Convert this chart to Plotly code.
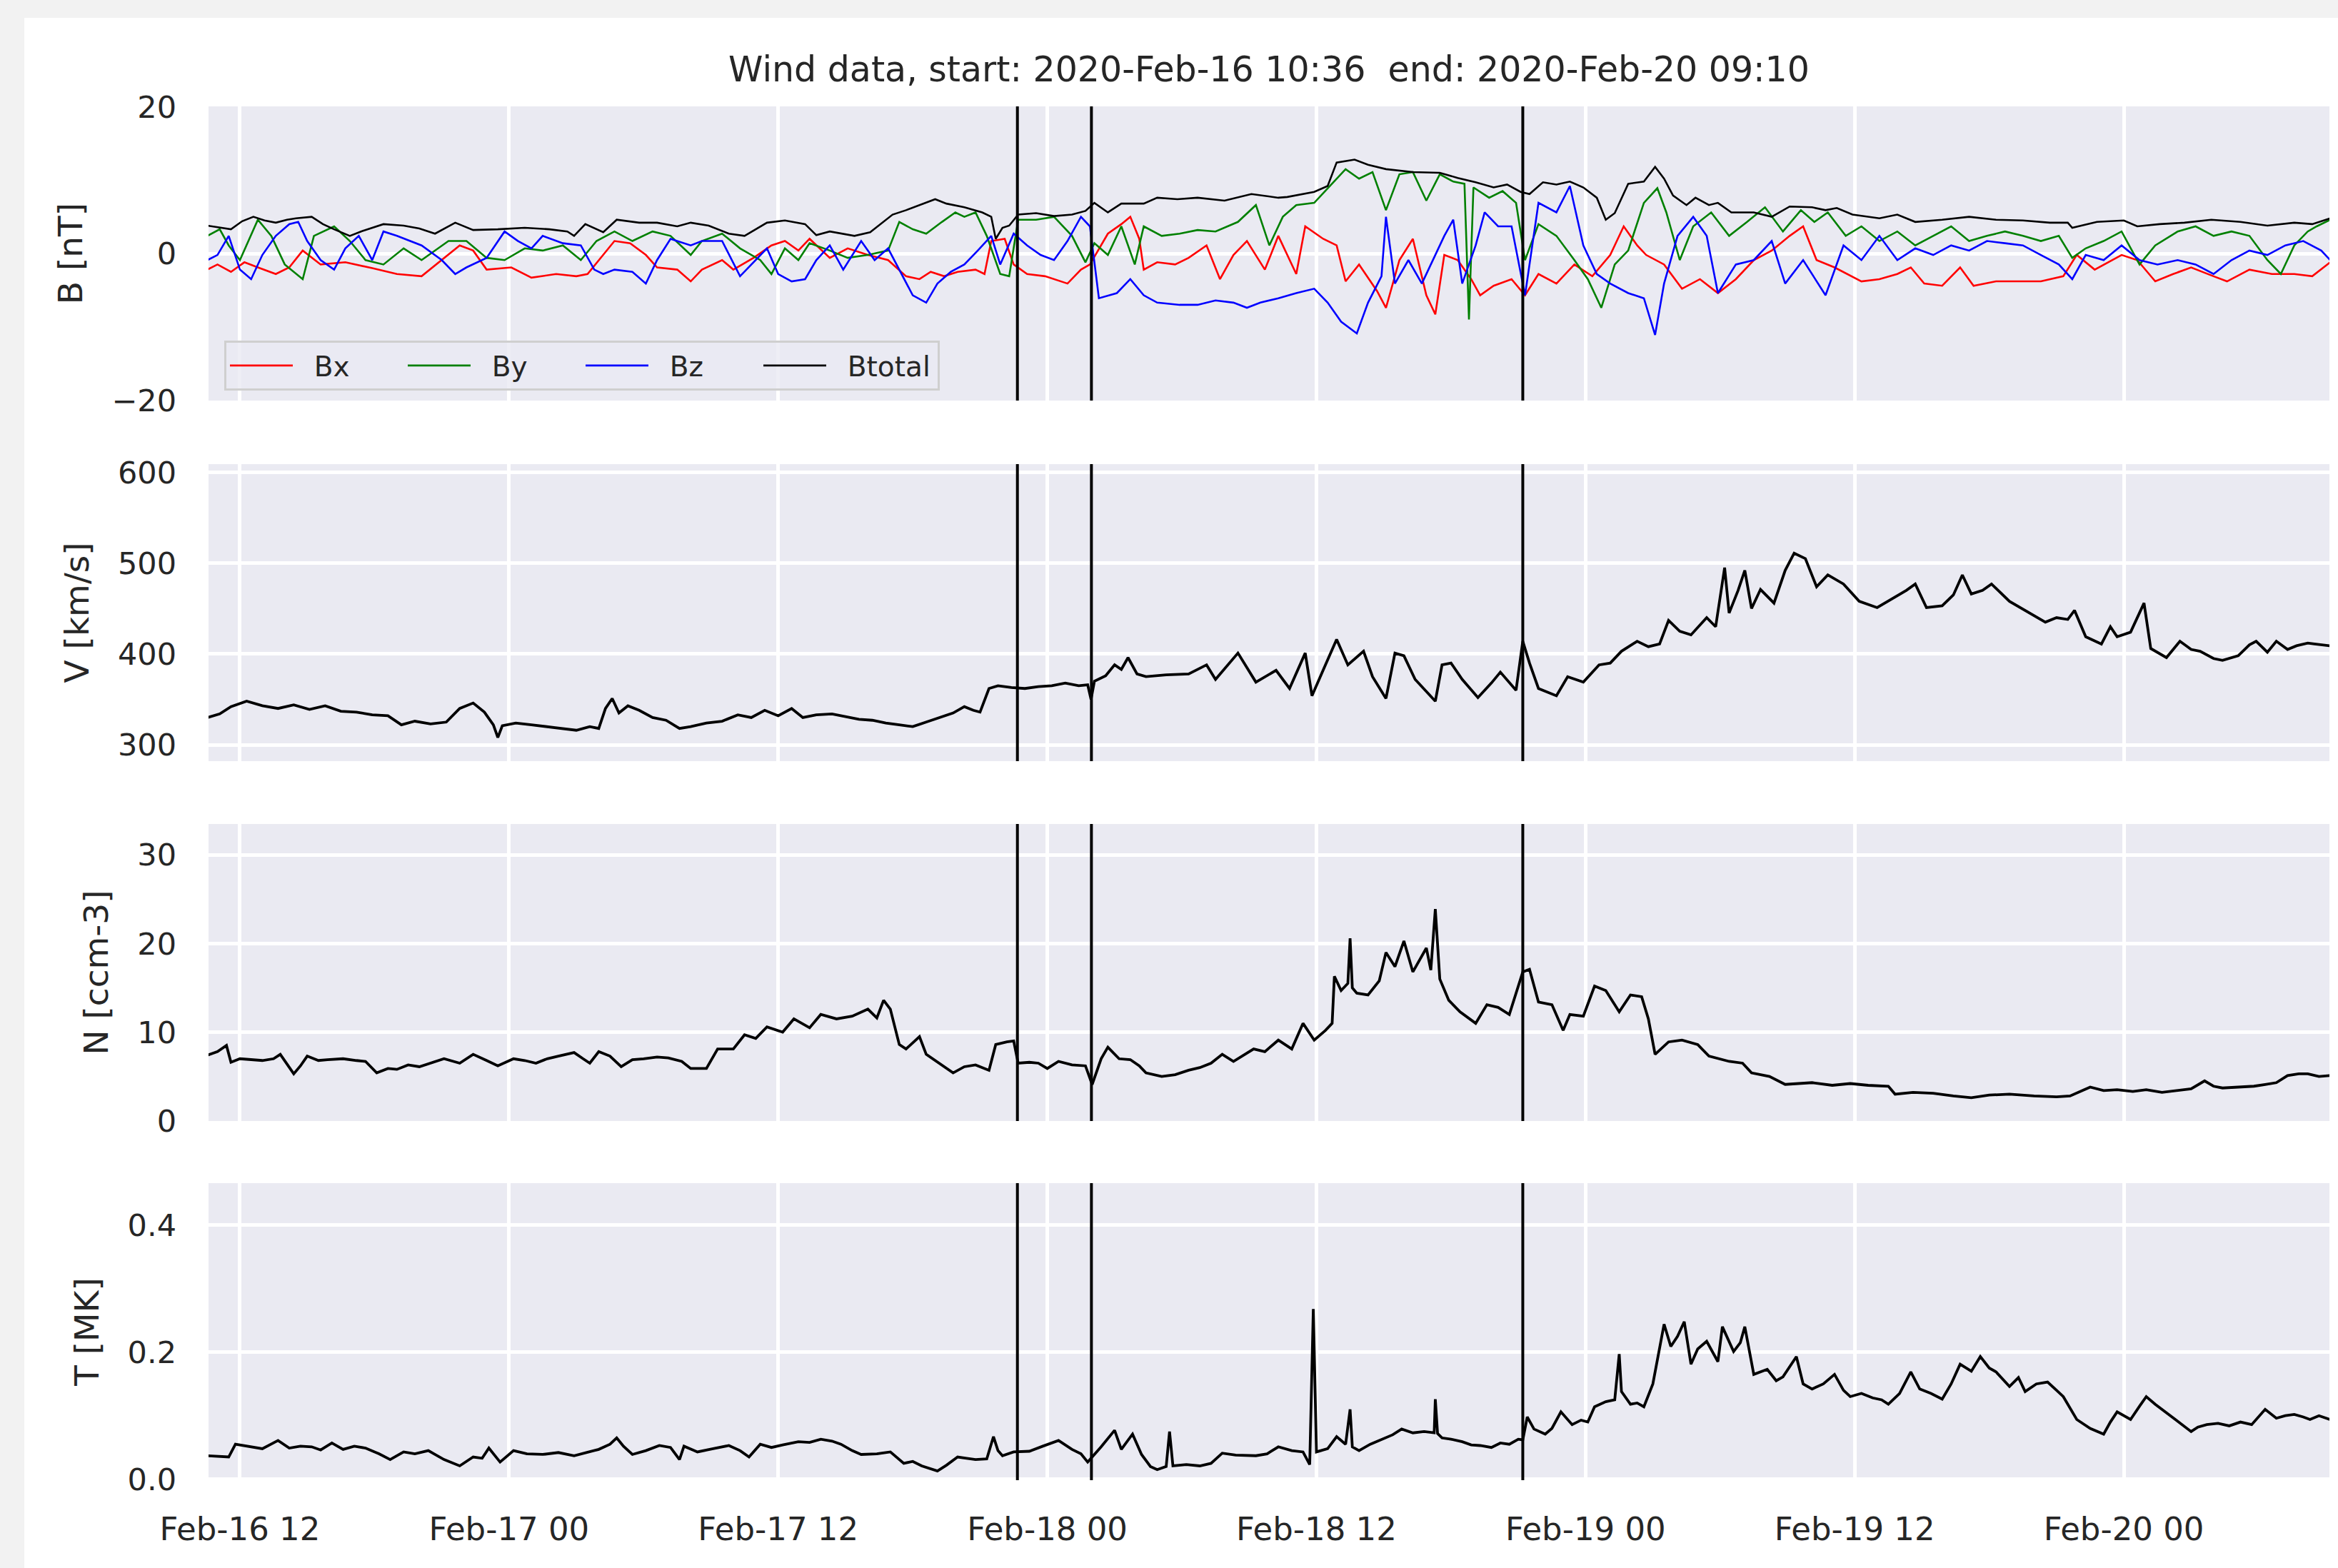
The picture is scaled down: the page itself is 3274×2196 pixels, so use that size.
import pandas as pd
import plotly.graph_objects as go
from plotly.subplots import make_subplots

# ---------------- data (hours relative to 2020-02-16 12:00 UT) ----------------
T0 = pd.Timestamp("2020-02-16 12:00")
START = "2020-02-16 10:36"
END = "2020-02-20 09:10"
event_times = ["2020-02-17 22:40", "2020-02-18 01:58", "2020-02-18 21:12"]

bt_hours = [-1.45, -0.9, -0.4, 0.1, 0.6, 1.1, 1.6, 2.1, 2.5, 3.2, 3.7, 4.2, 4.9, 5.4, 6.0, 6.4, 7.3, 8.0, 8.7, 9.6,
            10.4, 11.5, 12.7, 13.8, 14.6, 14.9, 15.4, 16.2, 16.8, 17.8, 18.6, 19.5, 20.1, 20.9, 21.8, 22.5, 23.5,
            24.3, 25.2, 25.7, 26.3, 27.4, 28.1, 29.1, 29.7, 30.3, 31.0, 31.5, 32.3, 33.1, 33.5, 33.7, 34.0, 34.3,
            34.7, 35.5, 36.3, 37.1, 37.7, 38.1, 38.7, 39.3, 40.3, 40.9, 41.8, 42.7, 43.9, 45.1, 46.3, 46.7, 47.9,
            48.5, 48.9, 49.7, 50.3, 51.1, 52.3, 53.5, 54.3, 55.1, 55.9, 56.5, 57.1, 57.5, 58.1, 58.7, 59.3, 59.9,
            60.5, 60.9, 61.3, 61.9, 62.6, 63.1, 63.5, 63.9, 64.5, 64.9, 65.5, 65.9, 66.5, 67.5, 68.3, 69.1, 70.1,
            70.7, 71.2, 71.9, 73.1, 73.9, 74.7, 75.9, 77.1, 78.3, 79.5, 80.7, 81.5, 81.7, 82.8, 84.0, 84.6, 85.6,
            86.7, 87.9, 89.2, 90.4, 91.6, 92.4, 93.2]
bt_vals = [3.8, 3.5, 3.3, 4.4, 5.0, 4.5, 4.2, 4.6, 4.8, 5.0, 4.0, 3.3, 2.4, 3.0, 3.6, 4.0, 3.8, 3.4, 2.7, 4.2,
           3.2, 3.3, 3.5, 3.3, 3.0, 2.4, 4.0, 2.9, 4.6, 4.2, 4.2, 3.7, 4.2, 3.8, 2.7, 2.4, 4.2,
           4.5, 4.0, 2.5, 3.0, 2.4, 2.9, 5.3, 5.9, 6.6, 7.4, 6.8, 6.3, 5.6, 5.0, 2.0, 3.5, 3.8,
           5.3, 5.5, 5.1, 5.3, 5.8, 6.9, 5.6, 6.8, 6.8, 7.6, 7.4, 7.6, 7.2, 8.1, 7.6, 7.7, 8.4,
           9.2, 12.4, 12.8, 12.1, 11.5, 11.1, 11.0, 10.3, 9.7, 9.0, 9.4, 8.4, 8.1, 9.7, 9.4, 9.8, 9.0,
           7.6, 4.6, 5.5, 9.5, 9.8, 11.8, 10.2, 7.9, 6.6, 7.6, 6.6, 6.9, 5.6, 5.6, 5.0, 6.4, 6.3,
           5.9, 6.2, 5.3, 4.8, 5.3, 4.3, 4.6, 5.0, 4.6, 4.5, 4.2, 4.2, 3.5, 4.3, 4.5, 3.7, 4.0,
           4.2, 4.6, 4.3, 3.8, 4.2, 4.0, 4.8]

bx_hours = [-1.45, -1.0, -0.4, 0.2, 0.8, 1.6, 2.2, 2.8, 3.6, 4.7, 5.9, 7.0, 8.1, 9.3, 9.8, 10.4, 11.0, 12.1, 13.0,
            14.1, 15.0, 15.5, 16.7, 17.4, 18.1, 18.6, 19.5, 20.1, 20.6, 21.5, 22.0, 22.9, 23.7, 24.3, 24.9, 25.4,
            26.3, 27.1, 28.0, 28.9, 29.7, 30.3, 30.8, 31.4, 32.0, 32.8, 33.2, 33.5, 34.1, 34.5, 35.1, 35.9, 36.9,
            37.5, 37.9, 38.7, 39.3, 39.7, 40.1, 40.3, 40.9, 41.7, 42.3, 43.1, 43.7, 44.3, 44.9, 45.7, 46.3, 47.1,
            47.5, 48.3, 48.9, 49.3, 49.9, 50.7, 51.1, 51.7, 52.3, 52.9, 53.3, 53.7, 54.3, 54.9, 55.3, 55.9, 56.7,
            57.3, 57.9, 58.7, 59.5, 60.3, 61.1, 61.7, 62.3, 62.7, 63.5, 64.3, 65.1, 65.9, 66.7, 67.5, 68.3, 69.1,
            69.7, 70.3, 71.1, 72.3, 73.1, 73.9, 74.5, 75.1, 75.9, 76.7, 77.3, 78.3, 79.3, 80.3, 81.3, 81.9, 82.7,
            83.9, 84.6, 85.4, 86.2, 87.0, 88.0, 88.6, 89.6, 90.6, 91.6, 92.4, 93.2]
bx_vals = [-2.2, -1.5, -2.5, -1.2, -1.9, -2.8, -1.9, 0.4, -1.5, -1.2, -2.0, -2.8, -3.1, -0.2, 1.1, 0.4, -2.2, -1.9, -3.3,
           -2.8, -3.1, -2.8, 1.7, 1.4, -0.2, -1.9, -2.2, -3.8, -2.2, -0.9, -2.2, -0.6, 1.1, 1.7, 0.4, 2.0,
           -0.6, 0.7, -0.2, -0.9, -3.1, -3.5, -2.5, -3.1, -2.5, -2.2, -2.8, 1.7, 2.0, -1.5, -2.8, -3.1, -4.1,
           -2.2, -1.5, 2.7, 4.0, 5.0, 2.0, -2.2, -1.2, -1.5, -0.6, 1.1, -3.5, -0.2, 1.7, -2.2, 2.4, -2.8,
           3.7, 2.0, 1.1, -3.8, -1.5, -5.1, -7.4, -0.9, 2.0, -5.7, -8.3, -0.2, -0.9, -3.5, -5.7, -4.4, -3.5,
           -5.7, -2.8, -4.1, -1.5, -3.1, -0.2, 3.7, 1.1, -0.2, -1.5, -4.8, -3.5, -5.4, -3.5, -0.9, 0.4, 2.4,
           3.7, -0.9, -1.9, -3.8, -3.5, -2.8, -1.9, -4.1, -4.4, -1.9, -4.4, -3.8, -3.8, -3.8, -3.1, -0.2, -2.2,
           -0.2, -0.9, -3.8, -2.8, -1.9, -3.1, -3.8, -2.2, -2.8, -2.8, -3.1, -1.2]

by_hours = [-1.45, -0.9, -0.5, 0.0, 0.8, 1.4, 2.0, 2.8, 3.3, 4.2, 4.9, 5.6, 6.4, 7.3, 8.1, 9.3, 10.1, 11.0, 11.8,
            12.7, 13.5, 14.4, 15.2, 15.9, 16.7, 17.5, 18.4, 19.2, 20.1, 20.6, 21.5, 22.3, 23.2, 23.7, 24.3, 24.9,
            25.4, 26.3, 27.1, 28.0, 28.9, 29.4, 30.0, 30.6, 31.3, 31.9, 32.3, 32.8, 33.3, 33.9, 34.3, 34.7, 35.5,
            36.3, 37.1, 37.7, 38.1, 38.7, 39.3, 39.9, 40.3, 41.1, 41.9, 42.7, 43.5, 44.5, 45.3, 45.9, 46.5, 47.1,
            47.9, 48.7, 49.3, 49.9, 50.5, 51.1, 51.7, 52.3, 52.9, 53.5, 54.1, 54.6, 54.8, 55.0, 55.7, 56.3, 56.9,
            57.3, 57.9, 58.7, 59.5, 60.1, 60.7, 61.3, 61.9, 62.6, 63.2, 63.6, 64.2, 64.8, 65.6, 66.4, 67.2, 68.0,
            68.8, 69.6, 70.2, 70.8, 71.6, 72.3, 73.1, 73.9, 74.7, 75.5, 76.3, 77.1, 77.9, 78.7, 79.5, 80.3, 81.1,
            81.7, 82.3, 83.1, 83.9, 84.7, 85.4, 86.4, 87.2, 88.0, 88.8, 89.6, 90.4, 91.0, 91.6, 92.2, 92.6, 93.2]
by_vals = [2.4, 3.3, 1.1, -0.9, 4.6, 2.4, -1.5, -3.5, 2.4, 3.7, 1.7, -0.9, -1.5, 0.7, -0.9, 1.7, 1.7, -0.6, -0.9,
           0.7, 0.4, 1.1, -0.9, 1.7, 3.0, 1.7, 3.0, 2.4, -0.2, 1.7, 2.7, 0.7, -0.9, -2.8, 0.7, -0.9,
           1.4, 0.4, -0.6, -0.2, 0.4, 4.3, 3.3, 2.7, 4.3, 5.6, 5.0, 5.6, 2.4, -2.8, -3.1, 4.6, 4.6,
           5.0, 2.4, -1.2, 1.4, -0.2, 3.7, -1.5, 3.7, 2.4, 2.7, 3.2, 3.0, 4.3, 6.6, 1.1, 5.0, 6.6,
           6.9, 9.5, 11.5, 10.2, 11.1, 5.9, 10.8, 11.1, 7.2, 10.8, 9.8, 9.5, -9.0, 9.0, 7.6, 8.5, 6.9,
           -0.9, 4.0, 2.4, -0.9, -3.5, -7.4, -1.5, 0.4, 6.9, 8.9, 5.6, -0.9, 3.7, 5.6, 2.4, 4.3, 6.3,
           3.0, 5.9, 4.3, 5.6, 2.4, 3.7, 1.7, 3.0, 1.1, 2.4, 3.7, 1.7, 2.4, 3.0, 2.4, 1.7, 2.4,
           -0.6, 0.7, 1.7, 3.0, -1.5, 1.1, 3.0, 3.7, 2.4, 3.0, 2.4, -0.9, -2.8, 1.1, 3.0, 3.7, 4.6]

bz_hours = [-1.45, -1.0, -0.5, 0.0, 0.5, 1.0, 1.6, 2.2, 2.6, 3.0, 3.6, 4.2, 4.7, 5.3, 5.9, 6.4, 7.0, 7.6, 8.1,
            9.0, 9.6, 10.1, 11.0, 11.8, 12.4, 13.0, 13.5, 14.4, 15.2, 15.8, 16.2, 16.7, 17.5, 18.1, 18.6, 19.2,
            20.1, 20.6, 21.5, 22.3, 22.9, 23.5, 24.0, 24.6, 25.2, 25.7, 26.3, 26.9, 27.7, 28.3, 28.9, 29.4, 30.0,
            30.6, 31.1, 31.7, 32.3, 32.9, 33.5, 33.9, 34.5, 35.1, 35.7, 36.3, 36.9, 37.5, 37.9, 38.3, 39.1, 39.7,
            40.3, 40.9, 41.9, 42.7, 43.5, 44.3, 44.9, 45.5, 46.3, 47.1, 47.9, 48.5, 49.1, 49.8, 50.3, 50.9, 51.1,
            51.5, 52.1, 52.7, 53.3, 53.7, 54.1, 54.5, 55.1, 55.5, 56.1, 56.7, 57.3, 57.9, 58.7, 59.3, 59.9, 60.5,
            61.1, 61.9, 62.6, 63.1, 63.5, 64.1, 64.8, 65.4, 65.9, 66.7, 67.5, 68.3, 68.9, 69.7, 70.7, 71.5, 72.3,
            73.1, 73.9, 74.7, 75.5, 76.3, 77.1, 77.9, 78.7, 79.5, 80.3, 81.1, 81.7, 82.3, 83.1, 83.9, 84.7, 85.5,
            86.4, 87.2, 88.0, 88.8, 89.6, 90.4, 91.2, 92.0, 92.8, 93.2]
bz_vals = [-0.9, -0.2, 2.4, -2.2, -3.5, -0.2, 2.4, 4.0, 4.3, 1.7, -0.9, -2.2, 0.7, 2.4, -0.9, 3.0, 2.4, 1.7, 1.1,
           -0.9, -2.8, -1.9, -0.6, 3.0, 1.7, 0.7, 2.4, 1.4, 1.1, -2.2, -2.8, -2.2, -2.5, -4.1, -0.9, 2.0,
           1.1, 1.7, 1.7, -3.1, -1.2, 0.7, -2.8, -3.8, -3.5, -0.9, 1.1, -2.2, 1.7, -0.9, 0.7, -2.2, -5.7,
           -6.7, -4.1, -2.5, -1.5, 0.4, 2.4, -1.5, 2.7, 1.1, -0.2, -0.9, 1.7, 5.0, 3.7, -6.1, -5.4, -3.5,
           -5.7, -6.7, -7.0, -7.0, -6.4, -6.7, -7.4, -6.7, -6.1, -5.4, -4.8, -6.7, -9.3, -10.9, -6.7, -3.1, 5.0,
           -4.1, -0.9, -4.1, -0.2, 2.4, 4.6, -4.1, 1.1, 5.6, 3.7, 3.7, -5.7, 6.9, 5.6, 9.2, 1.1, -2.8,
           -4.1, -5.4, -6.1, -11.1, -4.1, 2.4, 5.0, 2.4, -5.4, -1.5, -0.9, 1.7, -4.1, -0.9, -5.7, 1.1, -0.9,
           2.4, -0.9, 0.7, -0.2, 1.1, 0.4, 1.7, 1.4, 1.1, -0.2, -1.5, -3.5, -0.2, -0.9, 1.1, -0.9, -1.5,
           -0.9, -1.5, -2.8, -0.9, 0.4, -0.2, 1.1, 1.7, 0.4, -0.9]

v_hours = [-1.45, -0.9, -0.4, 0.3, 1.0, 1.7, 2.4, 3.1, 3.8, 4.5, 5.2, 5.9, 6.6, 7.2, 7.8, 8.5, 9.2, 9.8, 10.4, 10.9,
           11.3, 11.5, 11.7, 12.3, 13.0, 13.7, 14.4, 15.0, 15.6, 16.0, 16.3, 16.6, 16.9, 17.3, 17.8, 18.4, 19.0,
           19.6, 20.1, 20.8, 21.5, 22.2, 22.8, 23.4, 24.0, 24.6, 25.1, 25.7, 26.4, 27.0, 27.6, 28.2, 28.8, 29.4,
           30.0, 30.6, 31.2, 31.8, 32.3, 32.7, 33.0, 33.4, 33.8, 34.4, 35.0, 35.6, 36.2, 36.8, 37.4, 37.8, 37.95,
           38.1, 38.6, 39.0, 39.3, 39.6, 40.0, 40.4, 41.3, 42.3, 43.1, 43.5, 44.5, 45.3, 46.2, 46.8, 47.5, 47.8,
           48.4, 48.9, 49.4, 50.1, 50.5, 51.1, 51.5, 51.9, 52.4, 53.3, 53.6, 54.0, 54.5, 55.2, 55.8, 56.2, 56.9,
           57.2, 57.5, 57.9, 58.7, 59.2, 59.9, 60.6, 61.1, 61.6, 62.3, 62.8, 63.3, 63.7, 64.2, 64.7, 65.4, 65.8,
           66.2, 66.4, 66.8, 67.1, 67.4, 67.8, 68.4, 68.9, 69.3, 69.8, 70.3, 70.8, 71.5, 72.2, 73.0, 73.8, 74.3,
           74.7, 75.2, 75.9, 76.4, 76.8, 77.2, 77.7, 78.1, 78.9, 79.8, 80.5, 81.0, 81.5, 81.8, 82.3, 83.0, 83.4,
           83.7, 84.3, 84.9, 85.2, 85.9, 86.5, 87.0, 87.4, 88.0, 88.4, 89.1, 89.6, 89.9, 90.4, 90.8, 91.3, 91.7,
           92.2, 92.5, 93.2]
v_vals = [330, 334, 342, 348, 343, 340, 344, 339, 343, 337, 336, 333, 332, 322, 326, 323, 325, 340, 346, 336,
          322, 308, 321, 324, 322, 320, 318, 316, 320, 318, 340, 351, 335, 343, 338, 330, 327,
          318, 320, 324, 326, 333, 330, 338, 332, 340, 330, 333, 334, 331, 328, 327, 324, 322,
          320, 325, 330, 335, 342, 338, 336, 362, 365, 363, 362, 364, 365, 368, 365, 366, 350,
          370, 376, 388, 383, 396, 378, 375, 377, 378, 388, 372, 401, 369, 382, 362, 401, 354,
          388, 416, 388, 403, 375, 351, 401, 398, 372, 348, 388, 390, 372, 352, 368, 380, 360,
          414, 390, 362, 354, 375, 369, 388, 390, 403, 414, 408, 411, 437, 425, 421, 440, 430,
          495, 445, 470, 492, 450, 471, 456, 492, 511, 505, 474, 487, 477, 458, 451, 463, 470,
          477, 451, 453, 465, 487, 466, 470, 477, 458, 445, 435, 440, 438, 448, 419, 411, 430,
          419, 424, 456, 406, 396, 414, 405, 403, 395, 393, 398, 410, 414, 402, 414, 405, 409,
          412, 411, 409]

n_hours = [-1.45, -1.0, -0.6, -0.4, 0.0, 0.4, 1.0, 1.5, 1.8, 2.4, 2.7, 3.0, 3.5, 3.9, 4.6, 5.2, 5.6, 6.1, 6.6, 7.0,
           7.5, 8.0, 8.6, 9.1, 9.8, 10.4, 11.0, 11.5, 12.2, 12.7, 13.2, 13.7, 14.2, 14.9, 15.3, 15.6, 16.0, 16.5,
           17.0, 17.5, 18.0, 18.6, 19.1, 19.7, 20.1, 20.8, 21.3, 22.0, 22.5, 23.0, 23.5, 24.2, 24.7, 25.4, 25.9,
           26.6, 27.3, 28.0, 28.4, 28.7, 29.0, 29.4, 29.7, 30.3, 30.6, 31.1, 31.8, 32.3, 32.8, 33.4, 33.7, 34.2,
           34.5, 34.7, 35.2, 35.6, 36.0, 36.5, 37.1, 37.7, 38.0, 38.4, 38.7, 39.2, 39.7, 40.1, 40.4, 41.1, 41.7,
           42.3, 42.8, 43.3, 43.8, 44.3, 44.8, 45.2, 45.7, 46.3, 46.9, 47.4, 47.9, 48.4, 48.7, 48.8, 49.1, 49.4,
           49.5, 49.6, 49.8, 50.3, 50.8, 51.1, 51.5, 51.9, 52.3, 52.9, 53.1, 53.3, 53.5, 53.9, 54.4, 55.1, 55.6,
           56.1, 56.6, 57.2, 57.5, 57.9, 58.5, 59.0, 59.3, 59.9, 60.4, 60.9, 61.5, 62.0, 62.5, 62.8, 63.1, 63.7,
           64.3, 65.0, 65.5, 66.4, 67.0, 67.4, 68.2, 68.9, 70.1, 71.0, 71.8, 72.6, 73.5, 73.8, 74.6, 75.5, 76.4,
           77.2, 78.0, 78.9, 80.0, 81.0, 81.6, 82.5, 83.1, 83.7, 84.4, 85.0, 85.7, 86.4, 87.0, 87.6, 88.0, 88.4,
           89.1, 89.8, 90.3, 90.8, 91.3, 91.8, 92.2, 92.7, 93.2]
n_vals = [7.4, 7.8, 8.5, 6.6, 7.0, 6.9, 6.8, 7.0, 7.5, 5.3, 6.2, 7.3, 6.8, 6.9, 7.0, 6.8, 6.7, 5.4, 5.9, 5.8,
          6.3, 6.1, 6.6, 7.0, 6.5, 7.5, 6.8, 6.2, 7.0, 6.8, 6.5, 7.0, 7.3, 7.7, 7.0, 6.5, 7.8, 7.3,
          6.1, 6.9, 7.0, 7.2, 7.1, 6.7, 5.9, 5.9, 8.1, 8.1, 9.7, 9.3, 10.6, 10.0, 11.5, 10.5, 12.0,
          11.5, 11.8, 12.6, 11.6, 13.6, 12.6, 8.6, 8.1, 9.5, 7.5, 6.6, 5.4, 6.1, 6.3, 5.7, 8.6, 8.9,
          9.0, 6.5, 6.6, 6.5, 5.9, 6.7, 6.3, 6.2, 4.1, 7.0, 8.3, 7.0, 6.9, 6.2, 5.4, 5.0, 5.2,
          5.7, 6.0, 6.5, 7.5, 6.7, 7.5, 8.1, 7.8, 9.1, 8.1, 11.0, 9.1, 10.2, 11.0, 16.3, 14.7, 15.5,
          20.6, 15.0, 14.4, 14.2, 15.8, 19.0, 17.4, 20.3, 16.8, 19.5, 17.0, 23.9, 16.0, 13.6, 12.3, 11.0, 13.1,
          12.8, 12.0, 16.8, 17.1, 13.4, 13.1, 10.2, 12.0, 11.8, 15.2, 14.7, 12.3, 14.2, 14.0, 11.5, 7.5, 8.9,
          9.1, 8.6, 7.3, 6.7, 6.5, 5.4, 5.0, 4.1, 4.3, 4.0, 4.2, 4.0, 3.9, 3.0, 3.2, 3.1, 2.8,
          2.6, 2.9, 3.0, 2.8, 2.7, 2.8, 3.8, 3.4, 3.5, 3.3, 3.5, 3.2, 3.4, 3.6, 4.5, 3.9, 3.7,
          3.8, 3.9, 4.1, 4.3, 5.1, 5.3, 5.3, 5.0, 5.1]

t_hours = [-1.45, -0.9, -0.5, -0.2, 0.4, 1.0, 1.7, 2.2, 2.7, 3.2, 3.6, 4.1, 4.6, 5.1, 5.6, 6.2, 6.7, 7.3, 7.8, 8.4,
           9.1, 9.8, 10.4, 10.8, 11.1, 11.6, 12.2, 12.8, 13.5, 14.2, 14.9, 15.5, 16.0, 16.5, 16.8, 17.1, 17.5,
           18.1, 18.7, 19.2, 19.6, 19.8, 20.4, 21.1, 21.8, 22.3, 22.7, 23.2, 23.7, 24.2, 24.9, 25.4, 25.9, 26.4,
           26.8, 27.3, 27.7, 28.4, 29.0, 29.6, 30.0, 30.4, 30.8, 31.1, 31.5, 32.0, 32.4, 32.8, 33.3, 33.6, 33.8,
           34.0, 34.5, 35.2, 35.8, 36.5, 37.1, 37.5, 37.8, 38.4, 39.0, 39.3, 39.8, 40.2, 40.6, 40.9, 41.3, 41.45,
           41.6, 42.2, 42.8, 43.3, 43.8, 44.4, 45.3, 45.8, 46.3, 46.9, 47.4, 47.7, 47.86, 48.0, 48.5, 48.9, 49.3,
           49.5, 49.6, 49.9, 50.4, 50.9, 51.4, 51.8, 52.3, 52.8, 53.25, 53.3, 53.4, 53.6, 54.0, 54.5, 54.9, 55.3,
           55.8, 56.2, 56.6, 57.0, 57.2, 57.4, 57.7, 58.2, 58.5, 58.9, 59.4, 59.8, 60.1, 60.4, 60.9, 61.3, 61.5,
           61.6, 62.0, 62.3, 62.6, 63.0, 63.3, 63.5, 63.8, 64.1, 64.4, 64.7, 65.0, 65.4, 65.9, 66.1, 66.6, 66.9,
           67.1, 67.5, 68.1, 68.5, 68.8, 69.4, 69.7, 70.1, 70.6, 71.1, 71.5, 71.8, 72.3, 72.8, 73.2, 73.5, 74.0,
           74.5, 74.9, 75.4, 75.9, 76.3, 76.7, 77.2, 77.6, 78.0, 78.3, 78.9, 79.3, 79.6, 80.1, 80.6, 81.0, 81.3,
           81.9, 82.5, 83.1, 83.4, 83.7, 84.3, 84.7, 85.0, 85.4, 85.7, 86.4, 87.0, 87.3, 87.7, 88.2, 88.7, 89.2,
           89.7, 90.3, 90.8, 91.2, 91.6, 92.0, 92.3, 92.7, 93.2]
t_vals = [0.037, 0.036, 0.035, 0.055, 0.051, 0.048, 0.061, 0.049, 0.052, 0.051, 0.046, 0.057, 0.047, 0.052, 0.049,
          0.040, 0.031, 0.043, 0.040, 0.045, 0.031, 0.021, 0.035, 0.033, 0.049, 0.027, 0.045, 0.040, 0.039, 0.042,
          0.037, 0.043, 0.047, 0.055, 0.065, 0.052, 0.039, 0.045, 0.053, 0.050, 0.031, 0.052, 0.043, 0.048, 0.053,
          0.045, 0.035, 0.055, 0.050, 0.054, 0.059, 0.058, 0.063, 0.060, 0.055, 0.045, 0.039, 0.040, 0.043, 0.025,
          0.028, 0.021, 0.016, 0.013, 0.022, 0.035, 0.033, 0.031, 0.032, 0.067, 0.045, 0.037, 0.043, 0.044, 0.052,
          0.061, 0.047, 0.040, 0.027, 0.051, 0.077, 0.047, 0.071, 0.039, 0.020, 0.015, 0.020, 0.075, 0.021, 0.023,
          0.021, 0.025, 0.041, 0.038, 0.037, 0.040, 0.051, 0.045, 0.043, 0.023, 0.268, 0.043, 0.048, 0.067, 0.055,
          0.110, 0.051, 0.045, 0.055, 0.063, 0.070, 0.079, 0.073, 0.075, 0.073, 0.126, 0.072, 0.065, 0.063, 0.059,
          0.054, 0.053, 0.050, 0.057, 0.055, 0.063, 0.062, 0.098, 0.079, 0.071, 0.080, 0.106, 0.086, 0.093, 0.090,
          0.114, 0.122, 0.125, 0.197, 0.138, 0.118, 0.120, 0.114, 0.150, 0.209, 0.244, 0.209, 0.225, 0.248, 0.181,
          0.205, 0.217, 0.185, 0.240, 0.201, 0.215, 0.240, 0.165, 0.173, 0.155, 0.161, 0.193, 0.150, 0.142, 0.150,
          0.165, 0.140, 0.130, 0.135, 0.128, 0.125, 0.118, 0.135, 0.169, 0.142, 0.135, 0.126, 0.150, 0.181, 0.170,
          0.193, 0.175, 0.169, 0.146, 0.160, 0.138, 0.150, 0.153, 0.140, 0.130, 0.094, 0.080, 0.071, 0.090, 0.106,
          0.094, 0.115, 0.130, 0.118, 0.110, 0.090, 0.075, 0.082, 0.086, 0.088, 0.084, 0.090, 0.086, 0.110, 0.096,
          0.100, 0.102, 0.098, 0.094, 0.100, 0.094]

y_titles = ["B [nT]", "V [km/s]", "N [ccm-3]", "T [MK]"]
b_names = ["Bx", "By", "Bz", "Btotal"]
title_text = "Wind data, start: 2020-Feb-16 10:36\u00a0 end: 2020-Feb-20 09:10"


def to_time(hours):
    return T0 + pd.to_timedelta(pd.Series(hours, dtype=float), unit="h")


# ---------------- figure ----------------
W, H = 3274, 2196
ML, MR, MT, MB = 292, 12, 149, 123
FONT = "DejaVu Sans"
TXT = "#262626"
BG = "#EAEAF2"
NB = "\u00a0\u00a0"  # gap between legend line sample and label

fig = make_subplots(rows=4, cols=1, shared_xaxes=True, vertical_spacing=0.02)

b_series = [(bx_hours, bx_vals, "red"), (by_hours, by_vals, "green"),
            (bz_hours, bz_vals, "blue"), (bt_hours, bt_vals, "black")]
for name, (hrs, vals, col) in zip(b_names, b_series):
    fig.add_trace(go.Scatter(x=to_time(hrs), y=vals, mode="lines", name=NB + name,
                             line=dict(color=col, width=2.6)), row=1, col=1)

for r, (hrs, vals) in enumerate([(v_hours, v_vals), (n_hours, n_vals), (t_hours, t_vals)], start=2):
    fig.add_trace(go.Scatter(x=to_time(hrs), y=vals, mode="lines", showlegend=False,
                             line=dict(color="black", width=3.8)), row=r, col=1)

plot_h = H - MT - MB
def dom(top_px, bot_px):
    return [(H - MB - bot_px) / plot_h, (H - MB - top_px) / plot_h]

domains = [dom(149, 561), dom(650, 1066), dom(1154, 1570), dom(1657, 2073)]
ranges = [[-20.05, 20.05], [282, 609], [-0.03, 33.5], [-0.0015, 0.466]]
dticks = [20, 100, 10, 0.2]
fmts = ["", "", "", ".1f"]

for i in range(4):
    yk = "yaxis" if i == 0 else f"yaxis{i+1}"
    xk = "xaxis" if i == 0 else f"xaxis{i+1}"
    fig.layout[yk].update(domain=domains[i], range=ranges[i], dtick=dticks[i], tick0=0,
                          tickformat=fmts[i], showgrid=True, gridcolor="white", gridwidth=4.5,
                          zeroline=False, showline=False, ticks="", ticklabelstandoff=44,
                          tickfont=dict(family=FONT, size=43, color=TXT),
                          title=dict(text=y_titles[i], font=dict(family=FONT, size=47, color=TXT),
                                     standoff=25))
    fig.layout[xk].update(range=[START, END], type="date", showgrid=True, gridcolor="white",
                          gridwidth=4.5, zeroline=False, showline=False, ticks="",
                          dtick=12 * 3600 * 1000, tick0="2020-02-16 00:00",
                          tickformat="%b-%d %H", ticklabelstandoff=38,
                          tickfont=dict(family=FONT, size=45, color=TXT))

for i in range(4):
    xr = "x" if i == 0 else f"x{i+1}"
    yr = "y domain" if i == 0 else f"y{i+1} domain"
    for et in event_times:
        fig.add_shape(type="line", xref=xr, yref=yr, x0=et, x1=et, y0=0, y1=1,
                      line=dict(color="black", width=4), layer="above")

# grey page strips (left / top), in paper coords derived from pixels
pw = W - ML - MR
def px_x(p):
    return (p - ML) / pw
def px_y(p):
    return (H - MB - p) / plot_h

fig.add_shape(type="rect", xref="paper", yref="paper", x0=px_x(-5), x1=px_x(34),
              y0=px_y(H + 5), y1=px_y(-5), fillcolor="#F2F2F2", line_width=0, layer="below")
fig.add_shape(type="rect", xref="paper", yref="paper", x0=px_x(-5), x1=px_x(W + 5),
              y0=px_y(25), y1=px_y(-5), fillcolor="#F2F2F2", line_width=0, layer="below")

fig.update_layout(
    width=W, height=H,
    margin=dict(l=ML, r=MR, t=MT, b=MB, autoexpand=False),
    paper_bgcolor="white", plot_bgcolor=BG,
    font=dict(family=FONT, color=TXT),
    title=dict(text=title_text, x=px_x((ML + W - MR) / 2), xref="paper", xanchor="center",
               y=1 - 97 / H, yref="container", yanchor="middle",
               font=dict(family=FONT, size=49, color=TXT)),
    legend=dict(orientation="h", x=px_x(314), y=px_y(477), xanchor="left", yanchor="top",
                xref="paper", yref="paper",
                bgcolor="rgba(234,234,242,0.8)", bordercolor="#CFCFCF", borderwidth=3,
                font=dict(family=FONT, size=39, color=TXT),
                itemwidth=88, entrywidth=146, entrywidthmode="pixels"),
)

fig.write_html("out.html", config={"displayModeBar": False},
               post_script="document.body.style.margin='0';document.body.style.overflow='hidden';")
